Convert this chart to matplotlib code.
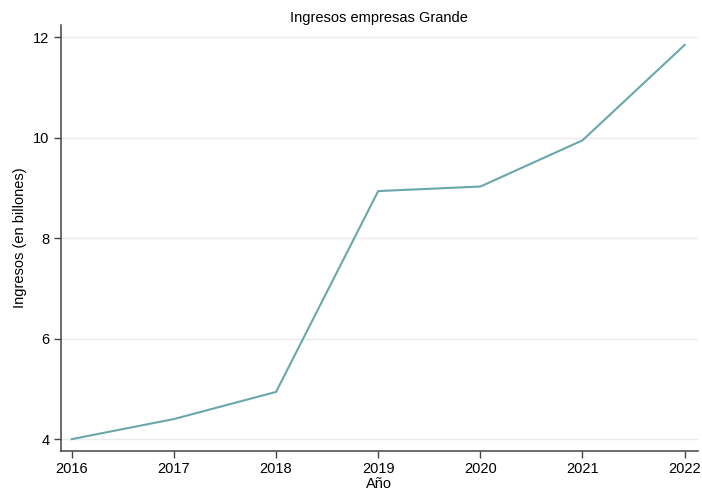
import matplotlib
matplotlib.use("Agg")
import matplotlib.pyplot as plt

years = [2016, 2017, 2018, 2019, 2020, 2021, 2022]
ingresos = [4.00, 4.40, 4.94, 8.94, 9.03, 9.95, 11.85]
yticks = [4, 6, 8, 10, 12]

plt.rcParams['font.family'] = ['Liberation Sans', 'DejaVu Sans']

fig = plt.figure(figsize=(7.02, 4.94), dpi=100)
ax = fig.add_axes([0.0862, 0.0877, 0.908, 0.862])
ax.plot(years, ingresos, color='#69a7a8', lw=1.5)
ax.set_xlim(2015.89, 2022.13)
ax.set_ylim(3.77, 12.25)
ax.set_xticks(years)
ax.set_yticks(yticks)
ax.grid(axis='y', color='#ebebeb', lw=1)
ax.set_axisbelow(True)
for s in ['top', 'right']:
    ax.spines[s].set_visible(False)
for s in ['left', 'bottom']:
    ax.spines[s].set_color('#444444')
    ax.spines[s].set_linewidth(1.1)
ax.tick_params(axis='both', direction='out', length=5, width=1, color='#444444', labelsize=10.5, pad=3)
ax.set_title('Ingresos empresas Grande', fontsize=10.5, pad=1)
ax.set_ylabel('Ingresos (en billones)', fontsize=10.5, labelpad=4)
ax.set_xlabel('Año', fontsize=10.5, labelpad=1)
fig.savefig('out.png', dpi=100)
